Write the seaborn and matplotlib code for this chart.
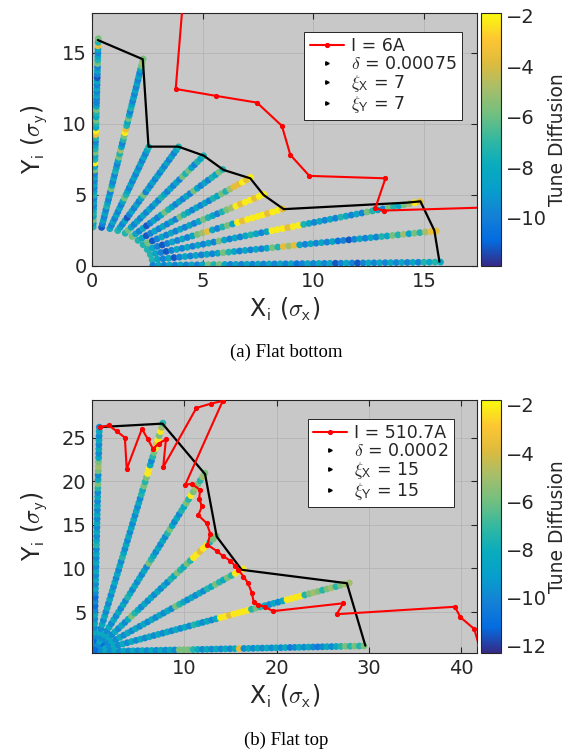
"""Tune diffusion maps for flat bottom / flat top, with dynamic aperture edge."""

import matplotlib
matplotlib.use("Agg")
import matplotlib.pyplot as plt
import numpy as np
import pandas as pd
import seaborn as sns
from matplotlib.colors import LinearSegmentedColormap, Normalize
from matplotlib.cm import ScalarMappable
from matplotlib.lines import Line2D

# one letter per tracked particle -> log10 tune diffusion
CODE_VALUE = {"d": -11.2, "b": -10.5, "B": -9.8, "c": -8.3, "t": -7.4,
              "g": -5.8, "l": -5.0, "o": -3.6, "y": -2.2}

# (a) flat bottom
A_ANGLES = [89, 81, 73, 65, 57, 49, 41, 33, 25, 17, 9, 1]
A_R0, A_STEP = 2.75, 0.25
A_CODES = [
    "tcgctcBcBtcBcBcBgcytcgtcBtoyctgctgcBBcBcBcdBcBgtcBcotg",
    "dBcBcBtcBcBgcBcBtcBcgtlcBtgyotcgcBtcBcBcBcBcBcglg",
    "cBcBcBcBcgtcBcBcBcBcBcBct",
    "tcBcdBcBcBcgBcBcBcBcBcBcBct",
    "tgcBcBcBcBcBtcBcBcBgtgcBtct",
    "gcBcdBcBcgtcBcBcBgcBcBtcgt",
    "tcdBcBcBcBgtcBcBcBtcgtlooyoy",
    "tgdBcBcBcBcBcgtcBtglyoyyoyy",
    "tcBdBcBcBcglocBtgcyoyyyyoyyo",
    "tcBdBcBcBcBcBgcBcBctcBcyyyoyytcBcBcBtcBcBgtcBgtcglyo",
    "tcBcdBcBcBcBcgtcBcBcBcgtolocBcBcBcbBdBcBcBtcgtlcgtloo",
    "BcBcBcBcBcgtgcBcBcBcBcBcBcbBcBcBcdBcBdBcBcBcBcBcBtctc",
]
A_EDGE_X = [0.26, 2.29, 2.32, 2.55, 3.9, 5.04, 5.94, 7.15, 7.75, 8.66, 14.25, 14.84, 15.47, 15.7]
A_EDGE_Y = [15.9, 14.55, 13.9, 8.4, 8.4, 7.77, 6.76, 6.17, 5.0, 4.0, 4.46, 4.55, 2.5, 0.3]
A_RED_X = [4.15, 3.78, 5.61, 7.45, 8.58, 8.96, 9.82, 13.26, 12.8, 13.18, 18.5]
A_RED_Y = [19.5, 12.46, 11.97, 11.5, 9.86, 7.82, 6.34, 6.17, 4.06, 3.9, 4.15]
A_LABELS = ["I = 6A", r"$\delta$ = 0.00075", r"$\xi_{\mathsf{X}}$ = 7", r"$\xi_{\mathsf{Y}}$ = 7"]

# (b) flat top
B_ANGLES = [88.7, 74.1, 59.6, 45.0, 30.4, 15.9, 1.3]
B_X0, B_Y0 = 0.2, 0.45
B_R0, B_STEP = 0.25, 0.5
B_CODES = [
    "cBcBcBcBcBdBdBcBcBcBcBcBtcBcBcBcBcBcBtgcBglgcBcBcBcB",
    "dBdBcBcBcBcBcBcBcBcBcBtcBcBcBcBcBcBcBtcgtgyycBtgyoygylt",
    "dBcBcBcBcBcBcBtcBcBcBcBgtcBcBcBtgcBcBtcgtyglgtlg",
    "dBcBcBcBcBcgtcBcBcBcBcBtcgtcgtyyoyytgg",
    "dBdBcBcBcBcBcBcBcBcBgtcBcBcBtcgtcgtyyy",
    "dBcBcBcBcBcBcBcBcBcBcBtcBcBcyyoyyyytgtcBcBcyyyytglgtgltgll",
    "dBcBcBcBcBcBcBcBcBgggtcBcBcBcBcoBcBcBcBcBcbBcBcBbBcBctgtgtg",
]
B_EDGE_X = [0.76, 7.62, 12.24, 13.5, 16.2, 27.6, 29.6]
B_EDGE_Y = [26.2, 26.6, 20.8, 13.65, 9.84, 8.3, 1.14]
B_RED_X = [0.87, 1.8, 2.7, 3.55, 3.75, 5.4, 6.05, 6.6, 7.2, 8.0, 7.7, 11.3, 12.9, 14.15,
           10.1, 10.8, 11.7, 11.6, 11.9, 11.5, 12.4, 12.8, 12.5, 13.5, 14.2, 14.95, 15.5,
           15.85, 16.4, 16.9, 17.3, 17.5, 18.0, 18.7, 19.6, 27.2, 26.5, 39.3, 39.9, 41.4, 41.9]
B_RED_Y = [26.2, 26.4, 25.7, 25.0, 21.4, 26.0, 24.8, 23.7, 24.3, 24.8, 21.6, 28.4, 28.9, 29.2,
           19.6, 19.7, 19.0, 18.0, 17.1, 16.1, 15.2, 14.0, 12.7, 12.0, 11.4, 10.9, 10.3,
           9.84, 9.07, 8.3, 7.2, 6.2, 5.8, 5.6, 5.1, 6.0, 4.75, 5.6, 4.4, 3.05, 1.2]
B_LABELS = ["I = 510.7A", r"$\delta$ = 0.0002", r"$\xi_{\mathsf{X}}$ = 15", r"$\xi_{\mathsf{Y}}$ = 15"]

PARULA = LinearSegmentedColormap.from_list("parula", [
    (0.2081, 0.1663, 0.5292), (0.0165, 0.4266, 0.8786), (0.0779, 0.5040, 0.8384),
    (0.0267, 0.6196, 0.8006), (0.0383, 0.6742, 0.7435), (0.1986, 0.7214, 0.6310),
    (0.4420, 0.7480, 0.5030), (0.6473, 0.7456, 0.4188), (0.8667, 0.7320, 0.2430),
    (0.9938, 0.7760, 0.1970), (0.9763, 0.9831, 0.0538)])

sns.set_style("ticks")
plt.rcParams.update({
    "font.family": ["DejaVu Sans"], "mathtext.fontset": "cm",
    "axes.edgecolor": "#262626", "xtick.color": "#262626", "ytick.color": "#262626",
    "text.color": "#262626", "axes.labelcolor": "#262626",
})


def grid_frame(angles, codes, r0, step, x0=0.0, y0=0.0):
    rows = []
    for ang, code in zip(angles, codes):
        r = r0 + step * np.arange(len(code))
        th = np.deg2rad(ang)
        for ri, ch in zip(r, code):
            rows.append((x0 + ri * np.cos(th), y0 + ri * np.sin(th), CODE_VALUE[ch]))
    return pd.DataFrame(rows, columns=["x", "y", "td"])


def draw_panel(ax, cax, df, edge, red, labels, norm, xlim, ylim, xticks, yticks, cticks, leg_x):
    ax.set_facecolor("#c8c8c8")
    ax.grid(True, color="#b4b4b4", linewidth=0.6)
    ax.set_axisbelow(True)
    sns.scatterplot(data=df, x="x", y="y", hue="td", palette=PARULA, hue_norm=norm,
                    s=24, linewidth=0, legend=False, ax=ax, zorder=2)
    ax.plot(edge[0], edge[1], color="black", linewidth=1.6, zorder=3)
    ax.plot(red[0], red[1], color="red", linewidth=1.5, marker=".", markersize=5.5, zorder=4)
    ax.set_xlim(*xlim)
    ax.set_ylim(*ylim)
    ax.set_xticks(xticks)
    ax.set_yticks(yticks)
    ax.tick_params(direction="in", top=True, right=True, length=4, labelsize=14, pad=4)
    ax.set_xlabel(r"X$_{\mathsf{i}}$ ($\sigma_{\mathsf{x}}$)", fontsize=17, labelpad=4)
    ax.set_ylabel(r"Y$_{\mathsf{i}}$ ($\sigma_{\mathsf{y}}$)", fontsize=17, labelpad=9)
    for sp in ax.spines.values():
        sp.set_linewidth(0.8)

    handles = [Line2D([], [], color="red", linewidth=1.5, marker=".", markersize=5.5)]
    handles += [Line2D([], [], color="black", linestyle="none", marker=">", markersize=2.5)
                for _ in range(3)]
    leg = ax.legend(handles, labels, loc="upper right", bbox_to_anchor=(leg_x, 0.925),
                    fontsize=12.5, frameon=True, fancybox=False, framealpha=1,
                    edgecolor="#262626", handlelength=2.0, handletextpad=0.4,
                    labelspacing=0.0, borderpad=0.3, borderaxespad=0)
    leg.get_frame().set_linewidth(0.7)

    cb = plt.colorbar(ScalarMappable(norm=norm, cmap=PARULA), cax=cax)
    cb.set_ticks(cticks)
    cb.ax.tick_params(direction="in", length=3, labelsize=14, left=True)
    cb.outline.set_linewidth(0.8)
    cb.set_label("Tune Diffusion", fontsize=13.5, labelpad=1)


fig = plt.figure(figsize=(5.72, 7.55), dpi=100)
ax_a = fig.add_axes([0.161, 0.6477, 0.673, 0.335])
cax_a = fig.add_axes([0.841, 0.6477, 0.035, 0.335])
ax_b = fig.add_axes([0.161, 0.1351, 0.673, 0.335])
cax_b = fig.add_axes([0.841, 0.1351, 0.035, 0.335])

df_a = grid_frame(A_ANGLES, A_CODES, A_R0, A_STEP)
df_b = grid_frame(B_ANGLES, B_CODES, B_R0, B_STEP, B_X0, B_Y0)

draw_panel(ax_a, cax_a, df_a, (A_EDGE_X, A_EDGE_Y), (A_RED_X, A_RED_Y), A_LABELS,
           Normalize(-11.9, -1.9), (0, 17.4), (0, 17.8), [0, 5, 10, 15], [0, 5, 10, 15],
           [-10, -8, -6, -4, -2], 0.961)
draw_panel(ax_b, cax_b, df_b, (B_EDGE_X, B_EDGE_Y), (B_RED_X, B_RED_Y), B_LABELS,
           Normalize(-12.3, -1.8), (0, 41.7), (0.3, 29.3), [10, 20, 30, 40], [5, 10, 15, 20, 25],
           [-12, -10, -8, -6, -4, -2], 0.940)

fig.text(0.5, 1 - 352 / 755, "(a) Flat bottom", ha="center", va="center",
         fontsize=13.5, family="Liberation Serif", color="black")
fig.text(0.5, 1 - 740 / 755, "(b) Flat top", ha="center", va="center",
         fontsize=13.5, family="Liberation Serif", color="black")

fig.savefig("out.png", dpi=100)
